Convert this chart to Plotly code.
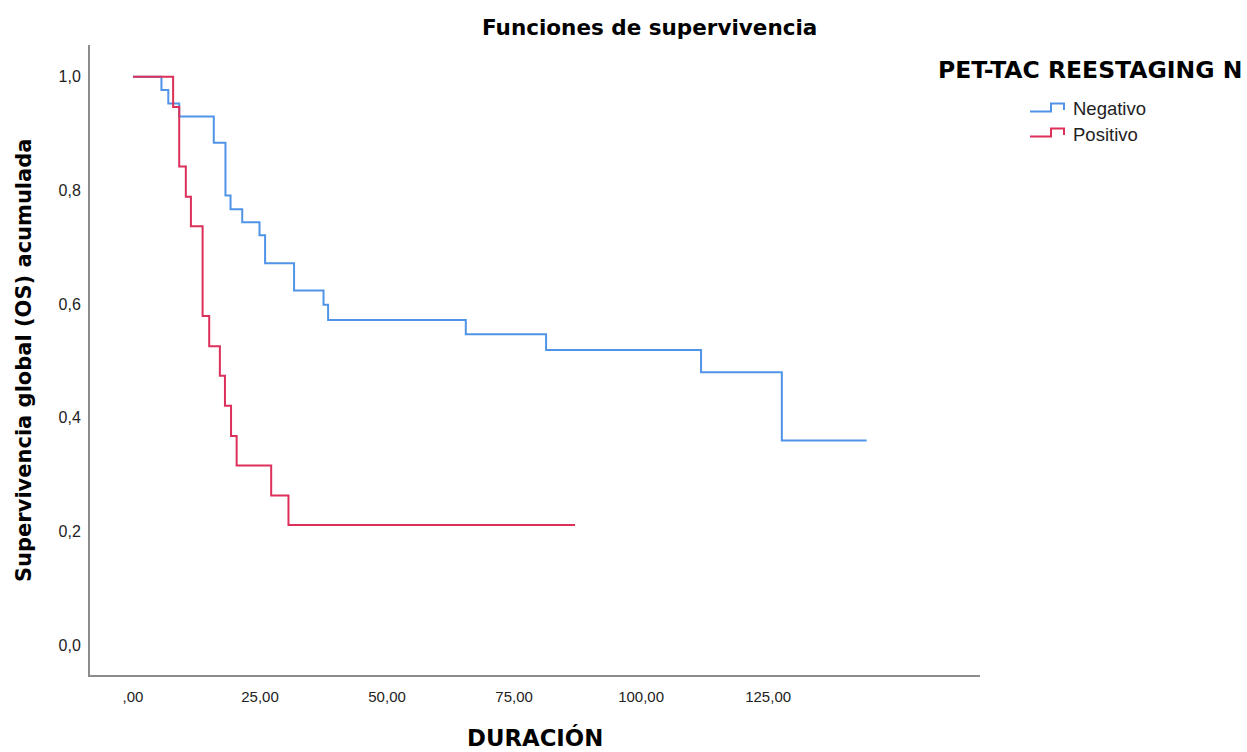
import plotly.graph_objects as go

# ---- data ----
neg_time = [0, 5.6, 6.95, 9.1, 15.9, 18.2, 19.2, 21.5, 24.9, 26.0, 31.7, 37.5, 38.4, 65.5, 81.3, 111.8, 127.7, 144.4]
neg_surv = [1.0, 0.977, 0.953, 0.930, 0.884, 0.791, 0.767, 0.744, 0.721, 0.672, 0.624, 0.599, 0.572, 0.547, 0.519, 0.480, 0.360, 0.360]

pos_time = [0, 7.9, 9.1, 10.4, 11.4, 13.7, 15.0, 17.1, 18.1, 19.3, 20.4, 27.2, 30.6, 87.0]
pos_surv = [1.0, 0.947, 0.842, 0.789, 0.737, 0.579, 0.526, 0.474, 0.421, 0.368, 0.316, 0.263, 0.211, 0.211]

x_tickvals = [0, 25, 50, 75, 100, 125]
x_ticktext = [",00", "25,00", "50,00", "75,00", "100,00", "125,00"]
y_tickvals = [0.0, 0.2, 0.4, 0.6, 0.8, 1.0]
y_ticktext = ["0,0", "0,2", "0,4", "0,6", "0,8", "1,0"]

series_names = ["Negativo", "Positivo"]
colors = ["#5094E8", "#DC2F5A"]

W, H = 1247, 752
L, R, T, B = 90, 267, 45, 77
PW, PH = W - L - R, H - T - B


def px(xp):
    return (xp - L) / PW


def py(yp):
    return (H - B - yp) / PH


fig = go.Figure()
for name, t, s, c in [(series_names[0], neg_time, neg_surv, colors[0]),
                      (series_names[1], pos_time, pos_surv, colors[1])]:
    fig.add_trace(go.Scatter(x=t, y=s, mode="lines", name=name,
                             line=dict(color=c, width=2, shape="hv"),
                             showlegend=False))

annotations = [
    dict(text="<b>Funciones de supervivencia</b>", x=px(649), y=py(27), xref="paper", yref="paper",
         xanchor="center", yanchor="middle", showarrow=False,
         font=dict(family="DejaVu Sans", size=21.5, color="black")),
    dict(text="<b>Supervivencia global (OS) acumulada</b>", x=px(24), y=py(361), xref="paper", yref="paper",
         xanchor="center", yanchor="middle", showarrow=False, textangle=-90,
         font=dict(family="DejaVu Sans", size=21, color="black")),
    dict(text="<b>DURACIÓN</b>", x=px(535), y=py(737), xref="paper", yref="paper",
         xanchor="center", yanchor="middle", showarrow=False, borderpad=0,
         font=dict(family="DejaVu Sans", size=22.8, color="black")),
    dict(text="<b>PET-TAC REESTAGING N</b>", x=px(936), y=py(70), xref="paper", yref="paper",
         xanchor="left", yanchor="middle", showarrow=False,
         font=dict(family="DejaVu Sans", size=23.5, color="black")),
]

shapes = []
legend_rows = [109, 134]
for name, c, yc in zip(series_names, colors, legend_rows):
    ylow, ytop = yc + 2.5, yc - 5.5
    path = (f"M {px(1030)} {py(ylow)} L {px(1051)} {py(ylow)} L {px(1051)} {py(ytop)} "
            f"L {px(1064)} {py(ytop)} L {px(1064)} {py(ylow - 1.5)}")
    shapes.append(dict(type="path", path=path, xref="paper", yref="paper",
                       line=dict(color=c, width=2)))
    annotations.append(dict(text=name, x=px(1071), y=py(yc), xref="paper", yref="paper",
                            xanchor="left", yanchor="middle", showarrow=False,
                            font=dict(family="Liberation Sans, Arial", size=18.5, color="#222")))

fig.update_layout(
    width=W, height=H,
    margin=dict(l=L, r=R, t=T, b=B),
    paper_bgcolor="white", plot_bgcolor="white",
    font=dict(family="Liberation Sans, Arial", size=16, color="#222"),
    annotations=annotations,
    shapes=shapes,
    showlegend=False,
    xaxis=dict(range=[-8.46, 166.7], tickvals=x_tickvals, ticktext=x_ticktext,
               showgrid=False, zeroline=False, showline=True, linecolor="#8c8c8c", linewidth=2,
               ticks="", ticklabelstandoff=7, tickfont=dict(size=15)),
    yaxis=dict(range=[-0.0528, 1.056], tickvals=y_tickvals, ticktext=y_ticktext,
               showgrid=False, zeroline=False, showline=True, linecolor="#8c8c8c", linewidth=2,
               ticks="", ticklabelstandoff=4, tickfont=dict(size=16)),
)

fig.write_html("out.html")
